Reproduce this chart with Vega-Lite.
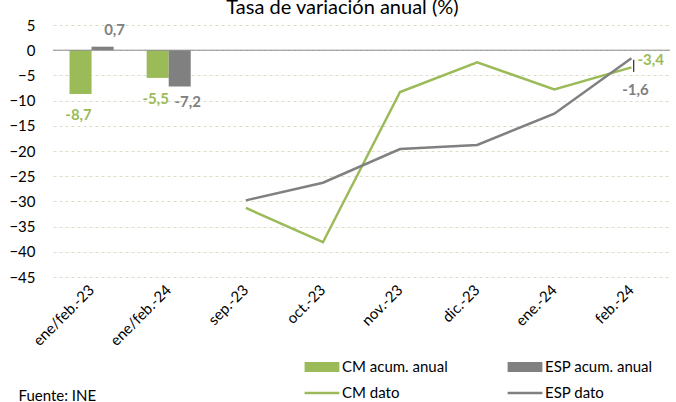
{
  "$schema": "https://vega.github.io/schema/vega-lite/v6.json",
  "autosize": {"type": "none"},
  "width": 617,
  "height": 252,
  "padding": {"left": 53, "top": 25, "right": 6, "bottom": 125},
  "background": "white",
  "config": {
    "view": {"stroke": null},
    "font": "Lato",
    "text": {"font": "Lato"}
  },
  "title": {
    "text": "Tasa de variación anual (%)",
    "fontSize": 20,
    "fontWeight": "normal",
    "color": "#000000",
    "font": "Lato",
    "anchor": "middle",
    "baseline": "alphabetic",
    "dx": -19,
    "dy": 16,
    "offset": 0
  },
  "datasets": {
    "bars": [
      {"cat": "ene/feb.-23", "serie": "CM acum. anual", "v": -8.7, "label": "-8,7"},
      {"cat": "ene/feb.-23", "serie": "ESP acum. anual", "v": 0.7, "label": "0,7"},
      {"cat": "ene/feb.-24", "serie": "CM acum. anual", "v": -5.5, "label": "-5,5"},
      {"cat": "ene/feb.-24", "serie": "ESP acum. anual", "v": -7.2, "label": "-7,2"}
    ],
    "lines": [
      {"cat": "sep.-23", "serie": "CM dato", "v": -31.3},
      {"cat": "oct.-23", "serie": "CM dato", "v": -38.1},
      {"cat": "nov.-23", "serie": "CM dato", "v": -8.3},
      {"cat": "dic.-23", "serie": "CM dato", "v": -2.4},
      {"cat": "ene.-24", "serie": "CM dato", "v": -7.8},
      {"cat": "feb.-24", "serie": "CM dato", "v": -3.4, "label": "-3,4"},
      {"cat": "sep.-23", "serie": "ESP dato", "v": -29.8},
      {"cat": "oct.-23", "serie": "ESP dato", "v": -26.3},
      {"cat": "nov.-23", "serie": "ESP dato", "v": -19.6},
      {"cat": "dic.-23", "serie": "ESP dato", "v": -18.8},
      {"cat": "ene.-24", "serie": "ESP dato", "v": -12.6},
      {"cat": "feb.-24", "serie": "ESP dato", "v": -1.6, "label": "-1,6"}
    ],
    "legend": [
      {"serie": "CM acum. anual"},
      {"serie": "CM dato"},
      {"serie": "ESP acum. anual"},
      {"serie": "ESP dato"}
    ],
    "leader": [
      {"cat": "feb.-24", "v": -1.9, "v2": -4.3}
    ],
    "zero": [
      {"v": 0}
    ]
  },
  "encoding": {
    "y": {
      "field": "v", "type": "quantitative",
      "scale": {"domain": [-45, 5], "nice": false, "zero": false},
      "axis": {
        "title": null, "values": [-45, -40, -35, -30, -25, -20, -15, -10, -5, 0, 5], "labelOverlap": false,
        "domain": false, "ticks": false, "labelPadding": 18, "labelFont": "Lato", "labelFontSize": 15, "labelColor": "#000000",
        "grid": true, "gridColor": "#DCDCC8", "gridDash": [3, 3], "gridWidth": 1
      }
    }
  },
  "layer": [
    {
      "data": {"name": "legend"},
      "mark": {"type": "point", "filled": true, "opacity": 0},
      "encoding": {
        "y": {"datum": 0, "type": "quantitative"},
        "color": {
          "field": "serie", "type": "nominal",
          "scale": {"domain": ["CM acum. anual", "CM dato", "ESP acum. anual", "ESP dato"], "range": ["#9BBB59", "#9BBB59", "#808080", "#808080"]},
          "legend": {
            "title": null, "orient": "none", "legendX": 257, "legendY": 330,
            "columns": 2, "columnPadding": 59, "rowPadding": 6, "padding": 0,
            "symbolSize": 576, "symbolOpacity": 1, "symbolStrokeWidth": 0,
            "labelFont": "Lato", "labelFontSize": 15, "labelColor": "#000000", "labelOffset": 8,
            "labelLimit": 300
          }
        },
        "shape": {
          "field": "serie", "type": "nominal",
          "scale": {"domain": ["CM acum. anual", "CM dato", "ESP acum. anual", "ESP dato"], "range": ["M-1.45,-0.42H1.45V0.42H-1.45Z", "M-1.45,-0.1H1.45V0.1H-1.45Z", "M-1.45,-0.42H1.45V0.42H-1.45Z", "M-1.45,-0.1H1.45V0.1H-1.45Z"]},
          "legend": {
            "title": null, "orient": "none", "legendX": 257, "legendY": 330,
            "columns": 2, "columnPadding": 59, "rowPadding": 6, "padding": 0,
            "symbolSize": 576, "symbolOpacity": 1, "symbolStrokeWidth": 0,
            "labelFont": "Lato", "labelFontSize": 15, "labelColor": "#000000", "labelOffset": 8,
            "labelLimit": 300
          }
        }
      }
    },
    {
      "data": {"name": "bars"},
      "mark": {"type": "bar"},
      "encoding": {
        "x": {
          "field": "cat", "type": "nominal",
          "scale": {"domain": ["ene/feb.-23", "ene/feb.-24", "sep.-23", "oct.-23", "nov.-23", "dic.-23", "ene.-24", "feb.-24"], "paddingInner": 0, "paddingOuter": 0},
          "axis": {
            "title": "Fuente: INE", "titleFont": "Lato", "titleFontSize": 15, "titleFontWeight": "normal", "titleColor": "#000000",
            "titleAnchor": "start", "titleAlign": "left", "titleBaseline": "middle", "titleX": -35, "titleY": 118,
            "domain": false, "ticks": false, "labelAngle": -45, "labelAlign": "right", "labelBaseline": "middle",
            "labelPadding": 10, "labelFont": "Lato", "labelFontSize": 15, "labelColor": "#000000", "grid": false
          }
        },
        "xOffset": {
          "field": "serie", "type": "nominal",
          "scale": {"domain": ["CM acum. anual", "ESP acum. anual"], "paddingInner": 0, "paddingOuter": 0.75}
        },
        "color": {"field": "serie", "type": "nominal", "legend": null}
      }
    },
    {
      "data": {"name": "zero"},
      "mark": {"type": "rule", "color": "#8C8C8C", "strokeWidth": 1},
      "encoding": {}
    },
    {
      "data": {"name": "lines"},
      "mark": {"type": "line", "strokeWidth": 2.5},
      "encoding": {
        "x": {"field": "cat", "type": "nominal"},
        "color": {"field": "serie", "type": "nominal", "legend": null}
      }
    },
    {
      "data": {"name": "bars"},
      "transform": [{"filter": "datum.v < 0 && datum.serie === 'CM acum. anual'"}],
      "mark": {"type": "text", "fontWeight": "bold", "fontSize": 15, "baseline": "middle", "dy": 21, "dx": -2, "color": "#9BBB59"},
      "encoding": {
        "x": {"field": "cat", "type": "nominal"},
        "xOffset": {"field": "serie", "type": "nominal"},
        "text": {"field": "label"}
      }
    },
    {
      "data": {"name": "bars"},
      "transform": [{"filter": "datum.v < 0 && datum.serie === 'ESP acum. anual'"}],
      "mark": {"type": "text", "fontWeight": "bold", "fontSize": 15, "baseline": "middle", "dy": 16, "dx": 8, "color": "#808080"},
      "encoding": {
        "x": {"field": "cat", "type": "nominal"},
        "xOffset": {"field": "serie", "type": "nominal"},
        "text": {"field": "label"}
      }
    },
    {
      "data": {"name": "bars"},
      "transform": [{"filter": "datum.v >= 0"}],
      "mark": {"type": "text", "fontWeight": "bold", "fontSize": 15, "baseline": "middle", "dy": -17, "dx": 12, "color": "#808080"},
      "encoding": {
        "x": {"field": "cat", "type": "nominal"},
        "xOffset": {"field": "serie", "type": "nominal"},
        "text": {"field": "label"}
      }
    },
    {
      "data": {"name": "lines"},
      "transform": [{"filter": "datum.serie === 'CM dato' && datum.label"}],
      "mark": {"type": "text", "fontWeight": "bold", "fontSize": 15, "baseline": "middle", "align": "left", "dx": 6, "dy": -7, "color": "#9BBB59"},
      "encoding": {
        "x": {"field": "cat", "type": "nominal"},
        "text": {"field": "label"}
      }
    },
    {
      "data": {"name": "lines"},
      "transform": [{"filter": "datum.serie === 'ESP dato' && datum.label"}],
      "mark": {"type": "text", "fontWeight": "bold", "fontSize": 15, "baseline": "middle", "align": "center", "dx": 4, "dy": 32, "color": "#808080"},
      "encoding": {
        "x": {"field": "cat", "type": "nominal"},
        "text": {"field": "label"}
      }
    },
    {
      "data": {"name": "leader"},
      "mark": {"type": "rule", "color": "#000000", "strokeWidth": 1},
      "encoding": {
        "x": {"field": "cat", "type": "nominal", "bandPosition": 0.53},
        "y2": {"field": "v2"}
      }
    }
  ]
}
